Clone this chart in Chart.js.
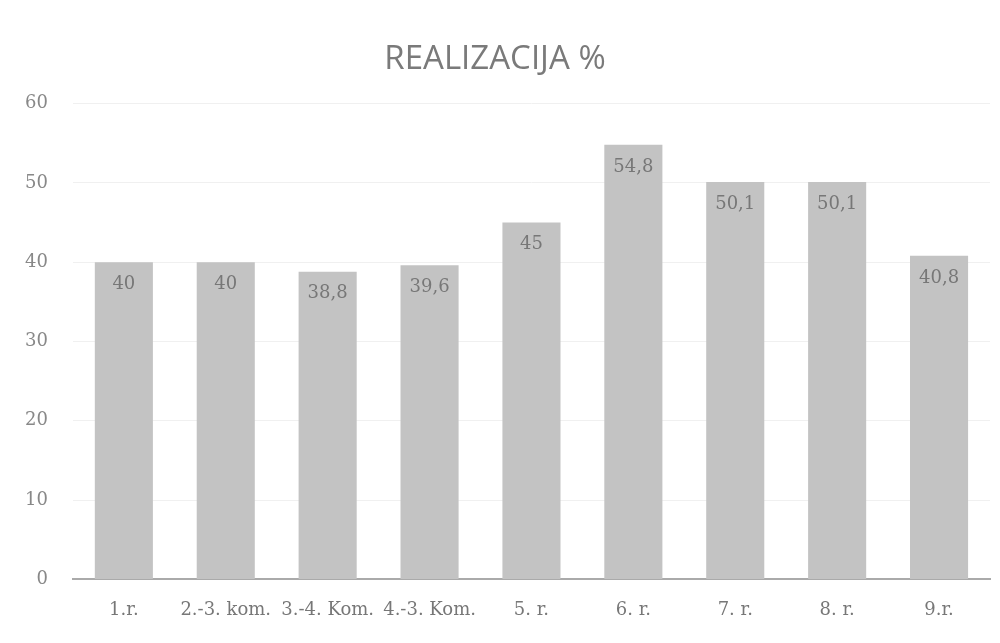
<!DOCTYPE html>
<html>
<head>
<meta charset="utf-8">
<script src="https://cdn.jsdelivr.net/npm/chart.js@4/dist/chart.umd.min.js"></script>
<style>
html,body{margin:0;padding:0;background:#fff;}
#wrap{width:1000px;height:643px;}
</style>
</head>
<body>
<div id="wrap"><canvas id="chart"></canvas></div>
<script>
var categories = ['1.r.', '2.-3. kom.', '3.-4. Kom.', '4.-3. Kom.', '5. r.', '6. r.', '7. r.', '8. r.', '9.r.'];
var values = [40, 40, 38.8, 39.6, 45, 54.8, 50.1, 50.1, 40.8];
var valueLabels = ['40', '40', '38,8', '39,6', '45', '54,8', '50,1', '50,1', '40,8'];
var yTicks = [0, 10, 20, 30, 40, 50, 60];

// labels written just under the top of each bar
var barLabels = {
  id: 'barLabels',
  afterDatasetsDraw: function(chart){
    var ctx = chart.ctx;
    var meta = chart.getDatasetMeta(0);
    ctx.save();
    ctx.font = '18px "DejaVu Serif"';
    ctx.fillStyle = '#777';
    ctx.textAlign = 'center';
    ctx.textBaseline = 'top';
    meta.data.forEach(function(bar, i){
      ctx.fillText(valueLabels[i], bar.x, bar.y + 13);
    });
    ctx.restore();
  }
};

var ctx = document.getElementById('chart').getContext('2d');
var chart = new Chart(ctx, {
  type: 'bar',
  data: {
    labels: categories,
    datasets: [{
      label: 'REALIZACIJA %',
      data: values,
      backgroundColor: '#c3c3c3',
      borderWidth: 0,
      barPercentage: 0.57,
      categoryPercentage: 1
    }]
  },
  options: {
    responsive: true,
    maintainAspectRatio: false,
    animation: false,
    layout: {padding: {left: 0, right: 10, top: 40, bottom: 10}},
    plugins: {
      legend: {display: false},
      tooltip: {enabled: false},
      title: {
        display: true,
        text: 'REALIZACIJA %',
        color: '#7a7a7a',
        font: {family: '"Open Sans"', size: 33, weight: 'normal'},
        padding: {top: 0, bottom: 24}
      }
    },
    scales: {
      x: {
        grid: {display: false},
        border: {color: '#aaa', width: 2},
        ticks: {color: '#777', font: {family: '"DejaVu Serif"', size: 18}, padding: 12, maxRotation: 0}
      },
      y: {
        min: 0,
        max: 60,
        afterBuildTicks: function(axis){
          axis.ticks = yTicks.map(function(v){ return {value: v}; });
        },
        grid: {color: '#f0f0f0', drawTicks: false},
        border: {display: false},
        ticks: {color: '#888', font: {family: '"DejaVu Serif"', size: 18}, padding: 25}
      }
    }
  },
  plugins: [barLabels]
});
</script>
</body>
</html>
